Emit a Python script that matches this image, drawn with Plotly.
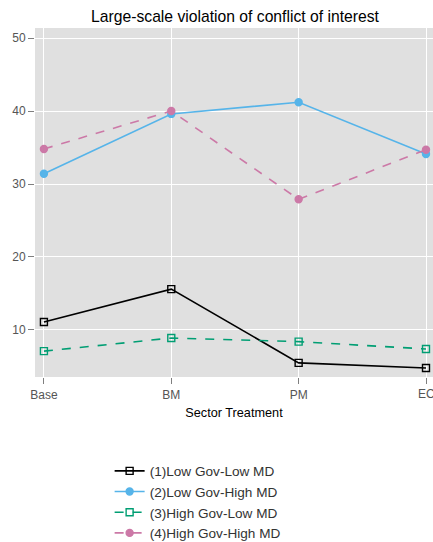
import plotly.graph_objects as go

categories = ["Base", "BM", "PM", "EC"]
s1 = [11.1, 15.6, 5.5, 4.8]
s2 = [31.4, 39.6, 41.2, 34.1]
s3 = [7.1, 8.9, 8.4, 7.4]
s4 = [34.8, 40.0, 27.9, 34.7]
names = ["(1)Low Gov-Low MD", "(2)Low Gov-High MD", "(3)High Gov-Low MD", "(4)High Gov-High MD"]
y_ticks = [10, 20, 30, 40, 50]

styles = [
    dict(color="black", dash="solid", symbol="square-open"),
    dict(color="#56B4E9", dash="solid", symbol="circle"),
    dict(color="#009E73", dash="dash", symbol="square-open"),
    dict(color="#CC79A7", dash="dash", symbol="circle"),
]

fig = go.Figure()
for name, vals, st in zip(names, [s1, s2, s3, s4], styles):
    fig.add_trace(go.Scatter(
        x=list(range(len(categories))), y=vals, name=name, mode="lines+markers",
        line=dict(color=st["color"], dash=st["dash"], width=1.6),
        marker=dict(symbol=st["symbol"], size=7, color=st["color"],
                    line=dict(color=st["color"], width=1.4)),
        cliponaxis=False,
    ))

# last category label sits at the edge of the page (clipped, as in the reference)
fig.add_annotation(x=len(categories) - 1, y=0, xref="x", yref="paper", yanchor="top",
                   yshift=-8, text=categories[-1], showarrow=False,
                   font=dict(size=12, color="#555555"))

W, H = 433, 542
fig.update_layout(
    width=W, height=H,
    margin=dict(l=35, r=0, t=28, b=165, autoexpand=False),
    paper_bgcolor="white", plot_bgcolor="#E0E0E0",
    font=dict(family="Liberation Sans, Arial, sans-serif", size=12, color="black"),
    title=dict(text="Large-scale violation of conflict of interest", x=235 / W, xanchor="center",
               y=1 - 17 / H, yanchor="middle", font=dict(size=15.7, color="black")),
    showlegend=True,
    legend=dict(x=0.1875, y=-0.225, xanchor="left", yanchor="top", bgcolor="rgba(0,0,0,0)",
                font=dict(size=13.6, color="#333333"), tracegroupgap=0),
    xaxis=dict(
        tickmode="array", tickvals=list(range(len(categories))), ticktext=categories,
        range=[-0.07, 3.055], showgrid=True, gridcolor="white", gridwidth=1.4,
        zeroline=False, ticks="outside", ticklen=6, tickcolor="#7f7f7f",
        ticklabelstandoff=1, automargin=False,
        tickfont=dict(size=12, color="#555555"),
        title=dict(text="Sector Treatment", font=dict(size=12.7, color="black"), standoff=6),
    ),
    yaxis=dict(
        tickmode="array", tickvals=y_ticks, range=[3.56, 51.37],
        showgrid=True, gridcolor="white", gridwidth=1.4, zeroline=False,
        ticks="outside", ticklen=6, tickcolor="#7f7f7f", automargin=False,
        tickfont=dict(size=12, color="#555555"),
    ),
)

fig.write_html("out.html", config={"displayModeBar": False},
               post_script="document.body.style.margin='0';document.body.style.overflow='hidden';")
